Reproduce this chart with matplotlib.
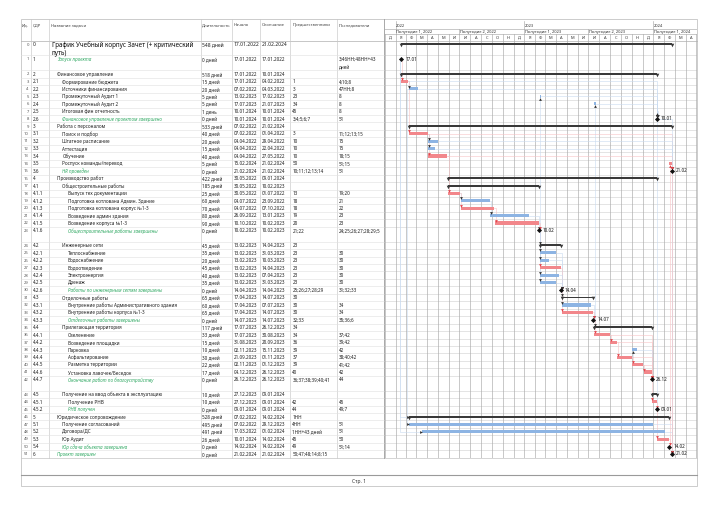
import re
import textwrap
from datetime import datetime, timedelta
import matplotlib
matplotlib.use("Agg")
import matplotlib.pyplot as plt
import matplotlib.dates as mdates
from matplotlib.patches import Rectangle

plt.rcParams['font.family'] = ['Noto Sans', 'DejaVu Sans']

# ---------------- data ----------------
wbs = ["0", "1", "2", "2.1", "2.2", "2.3", "2.4", "2.5", "2.6",
       "3", "3.1", "3.2", "3.3", "3.4", "3.5", "3.6",
       "4", "4.1", "4.1.1", "4.1.2", "4.1.3", "4.1.4", "4.1.5", "4.1.6",
       "4.2", "4.2.1", "4.2.2", "4.2.3", "4.2.4", "4.2.5", "4.2.6",
       "4.3", "4.3.1", "4.3.2", "4.3.3",
       "4.4", "4.4.1", "4.4.2", "4.4.3", "4.4.4", "4.4.5", "4.4.6", "4.4.7",
       "4.5", "4.5.1", "4.5.2", "5", "5.1", "5.2", "5.3", "5.4", "6"]

names = ["График Учебный корпус Зачет (+ критический путь)", "Запуск проекта",
         "Финансовое управление", "Формирование бюджета", "Источники финансирования",
         "Промежуточный Аудит 1", "Промежуточный Аудит 2", "Итоговая фин отчетность",
         "Финансовое управление проектом завершено",
         "Работа с персоналом", "Поиск и подбор", "Штатное расписание", "Аттестация",
         "Обучение", "Роспуск команды/перевод", "HR проведен",
         "Производство работ", "Общестроительные работы", "Выпуск тех документации",
         "Подготовка котлована Админ. Здание", "Подготовка котлована корпус №1-3",
         "Возведение админ здания", "Возведение корпуса №1-3",
         "Общестроительные работы завершены",
         "Инженерные сети", "Теплоснабжение", "Водоснабжение", "Водоотведение",
         "Электроэнергия", "Дренаж", "Работы по инженерным сетям завершены",
         "Отделочные работы", "Внутренние работы Административного здания",
         "Внутренние работы корпуса №1-3", "Отделочные работы завершены",
         "Прилегающая территория", "Озеленение", "Возведение площадки", "Парковка",
         "Асфальтирование", "Разметка территории", "Установка лавочек/Беседок",
         "Окончание работ по благоустройству",
         "Получение на ввод объекта в эксплуатацию", "Получение РНВ", "РНВ получен",
         "Юридическое сопровождение", "Получение согласований", "Договора/ДС",
         "Юр Аудит", "Юр сдача объекта завершена", "Проект завершен"]

levels = [0, 1, 1, 2, 2, 2, 2, 2, 2,
          1, 2, 2, 2, 2, 2, 2,
          1, 2, 3, 3, 3, 3, 3, 3,
          2, 3, 3, 3, 3, 3, 3,
          2, 3, 3, 3,
          2, 3, 3, 3, 3, 3, 3, 3,
          2, 3, 3, 1, 2, 2, 2, 2, 1]

durations = ["548 дней", "0 дней", "518 дней", "15 дней", "20 дней", "5 дней", "5 дней",
             "1 день", "0 дней", "533 дней", "40 дней", "20 дней", "15 дней", "40 дней",
             "5 дней", "0 дней", "422 дней", "185 дней", "25 дней", "60 дней", "70 дней",
             "80 дней", "90 дней", "0 дней", "45 дней", "35 дней", "20 дней", "45 дней",
             "40 дней", "35 дней", "0 дней", "65 дней", "60 дней", "65 дней", "0 дней",
             "117 дней", "33 дней", "15 дней", "10 дней", "30 дней", "22 дней", "17 дней",
             "0 дней", "10 дней", "10 дней", "0 дней", "528 дней", "495 дней", "491 дней",
             "26 дней", "0 дней", "0 дней"]

starts = ["17.01.2022", "17.01.2022", "17.01.2022", "17.01.2022", "07.02.2022",
          "13.02.2023", "17.07.2023", "10.01.2024", "10.01.2024",
          "07.02.2022", "07.02.2022", "04.04.2022", "04.04.2022", "04.04.2022",
          "15.02.2024", "21.02.2024",
          "30.05.2022", "30.05.2022", "30.05.2022", "04.07.2022", "04.07.2022",
          "26.09.2022", "10.10.2022", "10.02.2023",
          "13.02.2023", "13.02.2023", "13.02.2023", "13.02.2023", "13.02.2023",
          "13.02.2023", "14.04.2023",
          "17.04.2023", "17.04.2023", "17.04.2023", "14.07.2023",
          "17.07.2023", "17.07.2023", "31.08.2023", "02.11.2023", "21.09.2023",
          "02.11.2023", "04.12.2023", "26.12.2023",
          "27.12.2023", "27.12.2023", "09.01.2024",
          "07.02.2022", "07.02.2022", "17.03.2022", "10.01.2024", "14.02.2024",
          "21.02.2024"]

finishes = ["21.02.2024", "17.01.2022", "10.01.2024", "04.02.2022", "04.03.2022",
            "17.02.2023", "21.07.2023", "10.01.2024", "10.01.2024",
            "21.02.2024", "01.04.2022", "29.04.2022", "22.04.2022", "27.05.2022",
            "21.02.2024", "21.02.2024",
            "09.01.2024", "10.02.2023", "01.07.2022", "23.09.2022", "07.10.2022",
            "13.01.2023", "10.02.2023", "10.02.2023",
            "14.04.2023", "31.03.2023", "10.03.2023", "14.04.2023", "07.04.2023",
            "31.03.2023", "14.04.2023",
            "14.07.2023", "07.07.2023", "14.07.2023", "14.07.2023",
            "26.12.2023", "30.08.2023", "20.09.2023", "15.11.2023", "01.11.2023",
            "01.12.2023", "26.12.2023", "26.12.2023",
            "09.01.2024", "09.01.2024", "09.01.2024",
            "14.02.2024", "29.12.2023", "01.02.2024", "14.02.2024", "14.02.2024",
            "21.02.2024"]

predecessors = ["", "", "", "1", "3", "23", "34", "45", "3;4;5;6;7",
                "", "3", "10", "10", "10", "50", "10;11;12;13;14",
                "", "", "13", "18", "18", "19", "20", "21;22",
                "23", "23", "23", "23", "23", "23", "25;26;27;28;29",
                "30", "30", "30", "32;33",
                "34", "34", "36", "39", "37", "39", "40", "36;37;38;39;40;41",
                "", "42", "44", "1НН", "4НН", "1НН+43 дней", "45", "49",
                "50;47;48;14;8;15"]

successors = ["", "3;46НН;48НН+43 дней", "", "4;10;8", "47НН;8", "8", "8", "8", "51",
              "", "11;12;13;15", "15", "15", "18;15", "51;15", "51",
              "", "", "19;20", "21", "22", "23", "23", "24;25;26;27;28;29;5",
              "", "30", "30", "30", "30", "30", "31;32;33",
              "", "34", "34", "35;36;6",
              "", "37;42", "39;42", "42", "38;40;42", "41;42", "42", "44",
              "", "45", "49;7", "", "51", "51", "50", "51;14", ""]

kinds = ["sum", "ms", "sum", "task", "task", "task", "task", "task", "ms",
         "sum", "task", "task", "task", "task", "task", "ms",
         "sum", "sum", "task", "task", "task", "task", "task", "ms",
         "sum", "task", "task", "task", "task", "task", "ms",
         "sum", "task", "task", "ms",
         "sum", "task", "task", "task", "task", "task", "task", "ms",
         "sum", "task", "ms", "sum", "task", "task", "task", "ms", "ms"]

critical = [0, 1, 0, 1, 0, 0, 0, 0, 0, 0,
            1, 0, 0, 1, 1, 1, 0, 0, 1, 0,
            1, 0, 1, 1, 0, 0, 0, 1, 0, 0,
            1, 0, 0, 1, 1, 0, 1, 1, 0, 1,
            1, 1, 1, 0, 1, 1, 0, 0, 0, 1,
            1, 1]

month_letters = ["Я", "Ф", "М", "А", "М", "И", "И", "А", "С", "О", "Н", "Д"]
col_headers = ["Ид.", "СДР", "Название задачи", "Длительность", "Начало",
               "Окончание", "Предшественники", "Последователи"]

# ---------------- styling / geometry ----------------
RED = "#F2878B"
BLUE = "#8DB4E3"
DARK = "#3A3A3A"
GREEN = "#2FA862"
GRID = "#A9A9A9"
LINE = "#CFCFCF"

FW, FH = 720, 508
fig = plt.figure(figsize=(FW / 100, FH / 100), dpi=100)


def px_axes(x0, y0, x1, y1, z=1):
    ax = fig.add_axes([x0 / FW, 1 - y1 / FH, (x1 - x0) / FW, (y1 - y0) / FH], zorder=z)
    ax.set_facecolor("none")
    ax.axis("off")
    return ax


n = len(names)
tall_rows = {0, 1, 23, 42}
row_units = [2 if i in tall_rows else 1 for i in range(n)]
row_top = []
acc = 0
for u in row_units:
    row_top.append(acc)
    acc += u
total_units = acc

PAGE_L, PAGE_R, PAGE_T, PAGE_B = 21, 697, 19, 486
HEAD_T = 21.5
TOP = 40.5
UNIT = 7.45
BOT = TOP + total_units * UNIT
SPLIT = 384
col_lines = [30.7, 49.3, 200.5, 231.7, 260, 290, 336.7]
col_text_x = [22, 32.5, 51, 202, 233.3, 261.7, 292.3, 339]

# page
axp = px_axes(0, 0, FW, FH, z=0)
axp.set_xlim(0, FW)
axp.set_ylim(FH, 0)
axp.add_patch(Rectangle((PAGE_L, PAGE_T), PAGE_R - PAGE_L, PAGE_B - PAGE_T,
                        fill=False, ec="#C4C4C4", lw=0.6))
axp.plot([PAGE_L, PAGE_R], [TOP, TOP], color="#AFAFAF", lw=0.5)
axp.plot([PAGE_L, PAGE_R], [BOT, BOT], color="#C4C4C4", lw=0.5)
axp.plot([PAGE_L, PAGE_R], [475, 475], color="#9A9A9A", lw=0.8)
axp.plot([SPLIT, SPLIT], [PAGE_T, BOT], color="#9A9A9A", lw=0.6)
for cx in col_lines:
    axp.plot([cx, cx], [PAGE_T, BOT], color="#C8C8C8", lw=0.45)
for hx, lab in zip(col_text_x, col_headers):
    axp.text(hx, 25, lab, fontsize=3.0, color="#444444", va="center", ha="left")
axp.text((PAGE_L + PAGE_R) / 2, 481, "Стр. 1", fontsize=3.6, color="#333333",
         ha="center", va="center")

# table
axt = px_axes(PAGE_L, TOP, SPLIT, BOT)
axt.set_xlim(PAGE_L, SPLIT)
axt.set_ylim(total_units, 0)
for t in row_top[1:]:
    axt.axhline(t, color="#E0E0E0", lw=0.4)

FS = 3.3

for i in range(n):
    is_sum = kinds[i] == "sum"
    is_ms = kinds[i] == "ms"
    wt = "bold" if is_sum else "normal"
    c = "#1E1E1E"
    y = row_top[i] + 0.55
    axt.text(28.8, y, str(i), ha="right", va="center", fontsize=3.0, color="#555555")
    axt.text(col_text_x[1], y, wbs[i], va="center", fontsize=FS if i else 3.6, color=c,
             fontweight="bold" if (is_sum or i == 0) else "normal")
    nx = 51.7 + levels[i] * 5.3
    if i == 0:
        txt = "\n".join(textwrap.wrap(names[i], 42))
        axt.text(nx, row_top[i] + 0.12, txt, va="top", fontsize=4.6, fontweight="bold",
                 color="#111111", linespacing=1.25)
    elif is_ms:
        axt.text(nx, y, names[i], va="center", fontsize=FS, color=GREEN, style="italic")
    else:
        axt.text(nx, y, names[i], va="center", fontsize=FS, color=c, fontweight=wt)
    bw = "bold" if (is_sum or i == 0) else "normal"
    axt.text(col_text_x[3], y, durations[i], va="center", fontsize=FS if i else 3.6,
             color=c, fontweight=bw)
    axt.text(col_text_x[4], y, starts[i], va="center", fontsize=FS if i else 3.6,
             color=c, fontweight=bw)
    axt.text(col_text_x[5], y, finishes[i], va="center", fontsize=FS if i else 3.6,
             color=c, fontweight=bw)
    axt.text(col_text_x[6], y, predecessors[i], va="center", fontsize=FS, color=c,
             fontweight=bw)
    sl = textwrap.wrap(successors[i], 16, break_long_words=False)
    for k, ln in enumerate(sl):
        axt.text(col_text_x[7], y + k, ln, va="center", fontsize=FS, color=c)

# gantt
PX_PER_DAY = 10.75 * 12 / 365.0
jan22 = datetime(2022, 1, 1)
d_left = jan22 - timedelta(days=(395.5 - SPLIT) / PX_PER_DAY)
d_right = jan22 + timedelta(days=(PAGE_R - 395.5) / PX_PER_DAY)
X0, X1 = mdates.date2num(d_left), mdates.date2num(d_right)

axg = px_axes(SPLIT, TOP, PAGE_R, BOT)
axg.set_xlim(X0, X1)
axg.set_ylim(total_units, 0)
axh = px_axes(SPLIT, HEAD_T, PAGE_R, TOP)
axh.set_xlim(X0, X1)
axh.set_ylim(TOP, HEAD_T)

months = []
m = datetime(2021, 12, 1)
while m < d_right:
    months.append(m)
    m = datetime(m.year + (m.month // 12), m.month % 12 + 1, 1)

for t in row_top[1:]:
    axg.axhline(t, color=LINE, lw=0.4, zorder=0)
for mm in months:
    xm = mdates.date2num(mm)
    if xm > X0:
        axg.axvline(xm, color=GRID, lw=0.45, zorder=0)
        axh.plot([xm, xm], [34.5, TOP], color=GRID, lw=0.45)
        if mm.month in (1, 7):
            axh.plot([xm, xm], [29, 34.5], color=GRID, lw=0.45)
        if mm.month == 1:
            axh.plot([xm, xm], [HEAD_T, 29], color=GRID, lw=0.45)
    nxt = datetime(mm.year + (mm.month // 12), mm.month % 12 + 1, 1)
    xc = (max(xm, X0) + min(mdates.date2num(nxt), X1)) / 2
    if mdates.date2num(nxt) <= X1 + 1:
        axh.text(xc, 37.6, month_letters[mm.month - 1], fontsize=2.9, ha="center",
                 va="center", color="#333333")
    if mm.month == 1:
        axh.text(xm + 2, 25.6, str(mm.year), fontsize=2.9, va="center", color="#333333")
    if mm.month in (1, 7):
        axh.text(xm + 2, 31.8, f"Полугодие {1 if mm.month == 1 else 2}, {mm.year}",
                 fontsize=2.9, va="center", color="#333333")
axh.plot([X0, X1], [29, 29], color=GRID, lw=0.45)
axh.plot([X0, X1], [34.5, 34.5], color=GRID, lw=0.45)


def dnum(s):
    return mdates.date2num(datetime.strptime(s, "%d.%m.%Y"))


def xs(i):
    return dnum(starts[i]) + (0.5 if kinds[i] == "ms" else 0)


def xe(i):
    if kinds[i] == "ms":
        return dnum(starts[i]) + 0.5
    return dnum(finishes[i]) + 1


def yc(i):
    return row_top[i] + 0.5


# links
for b in range(n):
    for tok in predecessors[b].split(";"):
        tok = tok.strip()
        if not tok:
            continue
        mt = re.match(r"(\d+)(НН)?", tok)
        a = int(mt.group(1))
        crit_link = critical[a] and critical[b]
        lc = "#F7C3C5" if crit_link else "#C9DAEF"
        ac = "#E2454C" if crit_link else "#333333"
        ya, yb = yc(a), yc(b)
        if mt.group(2):
            xl = min(xs(a), xs(b)) - 4
            axg.plot([xs(a), xl, xl, xs(b)], [ya, ya, yb, yb], color=lc, lw=0.4, zorder=1)
            axg.plot(xs(b) - 1.5, yb, marker=">", ms=2.0, color=ac, mew=0, zorder=4)
        else:
            x_a = xe(a)
            x_b = max(xs(b) + 1.5, x_a + 1.5)
            if yb > ya:
                ye, mk = yb - 0.32, "v"
            else:
                ye, mk = yb + 0.32, "^"
            axg.plot([x_a, x_b, x_b], [ya, ya, ye], color=lc, lw=0.4, zorder=1)
            axg.plot(x_b, ye, marker=mk, ms=2.0, color=ac, mew=0, zorder=4)

# bars
for i in range(n):
    y = yc(i)
    if kinds[i] == "sum":
        axg.barh(y, xe(i) - xs(i), left=xs(i), height=0.24, color=DARK, zorder=3)
        axg.plot([xs(i), xe(i)], [y + 0.12, y + 0.12], ls="none", marker="v", ms=2.6,
                 color=DARK, mew=0, zorder=3)
    elif kinds[i] == "task":
        axg.barh(y, xe(i) - xs(i), left=xs(i), height=0.42,
                 color=RED if critical[i] else BLUE, zorder=3)
    else:
        axg.plot(xs(i), y, marker="D", ms=2.6, color="#111111", mew=0, zorder=5)
        axg.text(xs(i) + 11, y, starts[i][:5], fontsize=3.3, fontweight="bold",
                 va="center", ha="left", color="#111111", zorder=5)

fig.savefig("out.png", dpi=100)
